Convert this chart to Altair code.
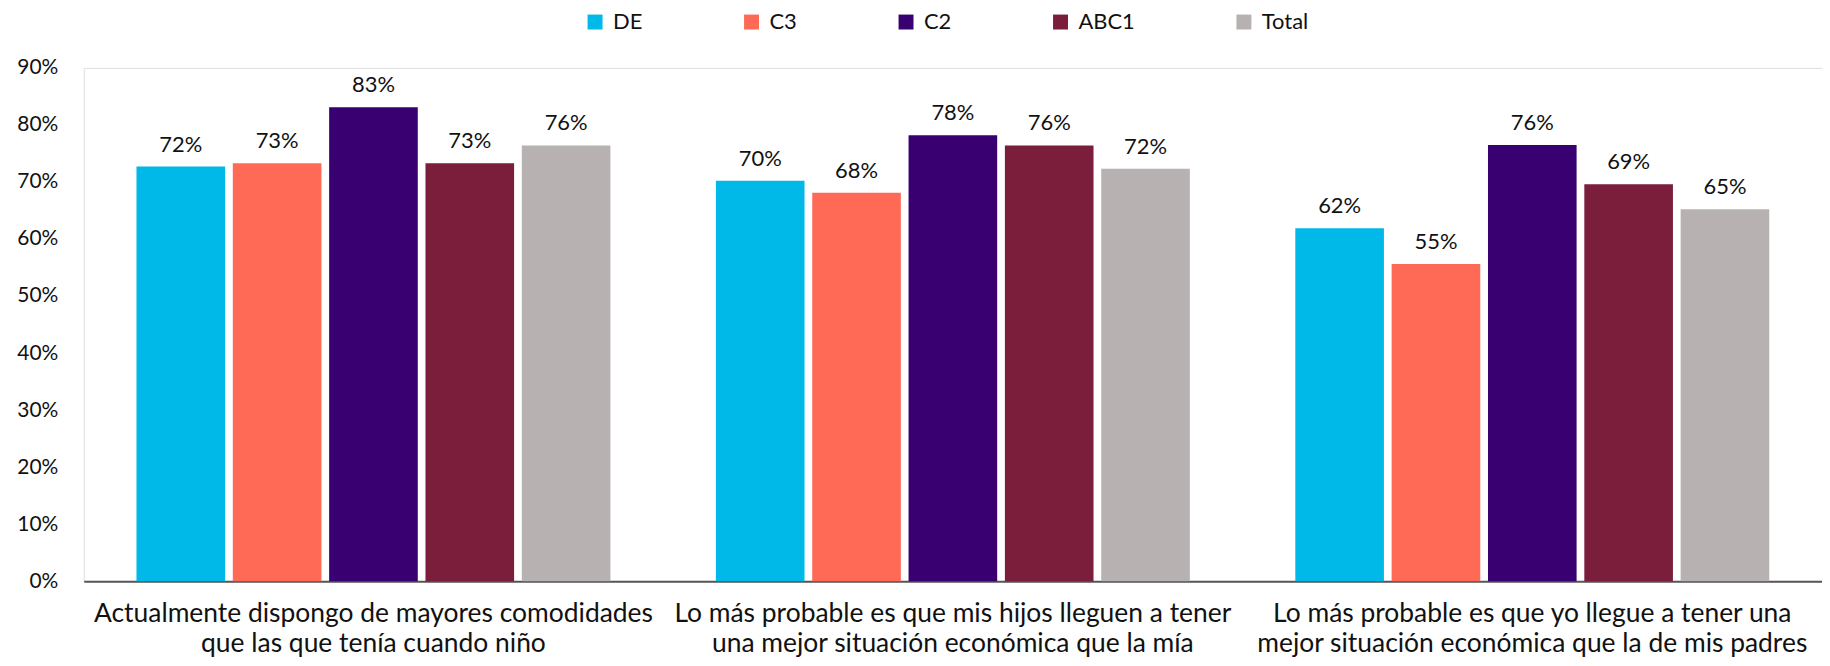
import altair as alt
import pandas as pd

categories = [
    "Actualmente dispongo de mayores comodidades|que las que tenía cuando niño",
    "Lo más probable es que mis hijos lleguen a tener|una mejor situación económica que la mía",
    "Lo más probable es que yo llegue a tener una|mejor situación económica que la de mis padres",
]
segments = ["DE", "C3", "C2", "ABC1", "Total"]
colors = ["#00B9E8", "#FF6A56", "#380070", "#7A1E3C", "#B8B1B1"]

values = {
    "DE": [72.7, 70.2, 61.9],
    "C3": [73.3, 68.1, 55.6],
    "C2": [83.1, 78.2, 76.5],
    "ABC1": [73.3, 76.4, 69.6],
    "Total": [76.4, 72.3, 65.2],
}
labels = {
    "DE": ["72%", "70%", "62%"],
    "C3": ["73%", "68%", "55%"],
    "C2": ["83%", "78%", "76%"],
    "ABC1": ["73%", "76%", "69%"],
    "Total": ["76%", "72%", "65%"],
}

rows = []
for s in segments:
    for i, c in enumerate(categories):
        rows.append({"cat": c, "seg": s, "val": values[s][i], "lab": labels[s][i]})
df = pd.DataFrame(rows)

FONT = "Lato"

x = alt.X(
    "cat:N",
    sort=categories,
    scale=alt.Scale(paddingInner=0.182, paddingOuter=0.091),
    axis=alt.Axis(
        title=None,
        labelAngle=0,
        labelExpr="split(datum.label, '|')",
        labelFont=FONT,
        labelFontSize=26.5,
        labelLineHeight=31,
        labelColor="#111111",
        labelPadding=19,
        labelLimit=800,
        ticks=False,
        domainColor="#555555",
        domainWidth=2,
    ),
)
xo = alt.XOffset("seg:N", sort=segments, scale=alt.Scale(paddingInner=0.08))

bars = alt.Chart(df).mark_bar().encode(
    x=x,
    xOffset=xo,
    y=alt.Y(
        "val:Q",
        scale=alt.Scale(domain=[0, 90], nice=False),
        axis=alt.Axis(
            title=None,
            values=list(range(0, 91, 10)),
            labelExpr="datum.value + '%'",
            labelFont=FONT,
            labelFontSize=21,
            labelColor="#111111",
            labelPadding=26,
            ticks=False,
            domain=False,
            grid=False,
        ),
    ),
    color=alt.Color(
        "seg:N",
        sort=segments,
        scale=alt.Scale(domain=segments, range=colors),
        legend=alt.Legend(
            title=None,
            orient="none",
            direction="horizontal",
            legendX=502,
            legendY=-57,
            symbolType="square",
            symbolSize=225,
            symbolStrokeWidth=0,
            symbolOpacity=1,
            labelFont=FONT,
            labelFontSize=22,
            labelColor="#111111",
            labelOffset=7,
            columnPadding=98,
        ),
    ),
)

text = alt.Chart(df).mark_text(
    baseline="alphabetic", dy=-15, font=FONT, fontSize=22, color="#111111"
).encode(
    x=alt.X("cat:N", sort=categories),
    xOffset=alt.XOffset("seg:N", sort=segments),
    y=alt.Y("val:Q"),
    text="lab:N",
)

chart = (
    alt.layer(bars, text)
    .properties(
        width=1744,
        height=515,
        autosize=alt.AutoSizeParams(type="none"),
        padding={"left": 76, "top": 59, "right": 0, "bottom": 80},
    )
    .configure_view(stroke=None)
    .configure(background="white")
)

chart.save("out.html", embed_options={"renderer": "svg", "actions": False})
